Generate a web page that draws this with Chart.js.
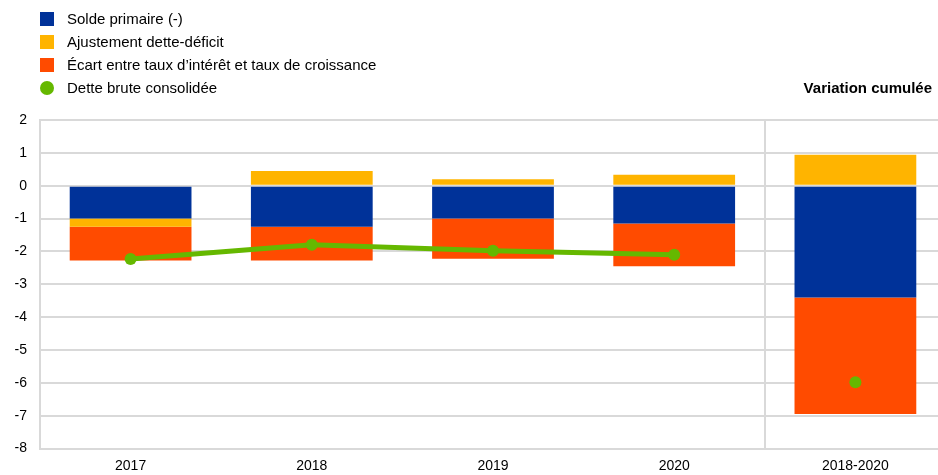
<!DOCTYPE html>
<html lang="fr">
<head>
<meta charset="utf-8">
<script src="https://cdn.jsdelivr.net/npm/chart.js@4/dist/chart.umd.min.js"></script>
<style>
  html, body { margin: 0; padding: 0; background: #fff; overflow: hidden; }
  #wrap { position: relative; width: 938px; height: 475px; overflow: hidden; }
  #box { position: absolute; left: 0; top: 0; width: 952px; height: 475px; }
  #legend { position: absolute; left: 40px; top: 0; font-family: "Liberation Sans", Arial, sans-serif; font-size: 15px; color: #000; }
  .item { position: absolute; left: 0; height: 20px; white-space: nowrap; }
  .mk { position: absolute; left: 0; width: 14px; height: 14px; }
  .tx { position: absolute; left: 27px; top: 0; line-height: 20px; }
  #cum { position: absolute; right: 6px; top: 79px; font-family: "Liberation Sans", Arial, sans-serif; font-size: 15px; font-weight: bold; color: #000; }
</style>
</head>
<body>
<div id="wrap">
  <div id="box"><canvas id="c" width="952" height="475"></canvas></div>
  <div id="legend"></div>
  <div id="cum">Variation cumulée</div>
</div>
<script>
// Categories and series (percentage points of GDP)
const categories = ['2017', '2018', '2019', '2020', '2018-2020'];
const soldePrimaire = [-1.00, -1.25, -1.00, -1.15, -3.40];
const ajustementDetteDeficit = [-0.25, 0.45, 0.20, 0.33, 0.94];
const ecartTauxCroissance = [-1.03, -1.03, -1.22, -1.30, -3.55];
const detteBrute = [-2.23, -1.80, -1.98, -2.10, -5.98];
const yTicks = [2, 1, 0, -1, -2, -3, -4, -5, -6, -7, -8];

const seriesNames = [
  'Solde primaire (-)',
  'Ajustement dette-déficit',
  'Écart entre taux d\u2019intérêt et taux de croissance',
  'Dette brute consolidée'
];
const colors = ['#003299', '#FFB400', '#FF4B00', '#65B800'];
const FONT = '"Liberation Sans", Arial, sans-serif';
const GRID = '#d9d9d9';

// HTML legend, one entry per line
const legend = document.getElementById('legend');
const centers = [19, 42, 65, 88];
seriesNames.forEach((name, i) => {
  const it = document.createElement('div');
  it.className = 'item';
  it.style.top = (centers[i] - 10) + 'px';
  const mk = document.createElement('div');
  mk.className = 'mk';
  mk.style.top = '3px';
  mk.style.background = colors[i];
  if (i === 3) mk.style.borderRadius = '50%';
  const tx = document.createElement('div');
  tx.className = 'tx';
  tx.textContent = name;
  it.appendChild(mk);
  it.appendChild(tx);
  legend.appendChild(it);
});

const barCommon = { stack: 's', barPercentage: 0.672, categoryPercentage: 1.0, borderWidth: 0, order: 2 };

new Chart(document.getElementById('c'), {
  type: 'bar',
  data: {
    labels: categories,
    datasets: [
      Object.assign({ label: seriesNames[0], data: soldePrimaire, backgroundColor: colors[0] }, barCommon),
      Object.assign({ label: seriesNames[1], data: ajustementDetteDeficit, backgroundColor: colors[1] }, barCommon),
      Object.assign({ label: seriesNames[2], data: ecartTauxCroissance, backgroundColor: colors[2] }, barCommon),
      {
        type: 'line',
        label: seriesNames[3],
        data: detteBrute,
        borderColor: colors[3],
        backgroundColor: colors[3],
        borderWidth: 5,
        pointRadius: 6,
        pointBorderWidth: 0,
        pointBackgroundColor: colors[3],
        tension: 0,
        order: 1,
        // the cumulative point stands alone, no segment leads to it
        segment: { borderColor: ctx => ctx.p1DataIndex === 4 ? 'rgba(0,0,0,0)' : colors[3] }
      }
    ]
  },
  options: {
    responsive: false,
    animation: false,
    devicePixelRatio: 1,
    layout: { padding: { top: 120, left: 0, right: 0, bottom: 0 } },
    plugins: { legend: { display: false }, tooltip: { enabled: false } },
    scales: {
      x: {
        stacked: true,
        offset: true,
        grid: {
          offset: true,
          drawTicks: false,
          lineWidth: 2,
          color: ctx => ctx.index === 4 ? GRID : 'rgba(0,0,0,0)'
        },
        border: { display: true, color: GRID, width: 2 },
        ticks: { color: '#000', font: { family: FONT, size: 14 }, padding: 9, maxRotation: 0 },
        afterFit: s => { s.height = 26.5; }
      },
      y: {
        stacked: true,
        min: -8,
        max: 2,
        afterBuildTicks: s => { s.ticks = yTicks.map(v => ({ value: v })); },
        grid: { color: GRID, lineWidth: 2, drawTicks: false },
        border: { display: true, color: GRID, width: 2 },
        ticks: { color: '#000', font: { family: FONT, size: 14 }, padding: 13 },
        afterFit: s => { s.width = 40; }
      }
    }
  }
});
</script>
</body>
</html>
